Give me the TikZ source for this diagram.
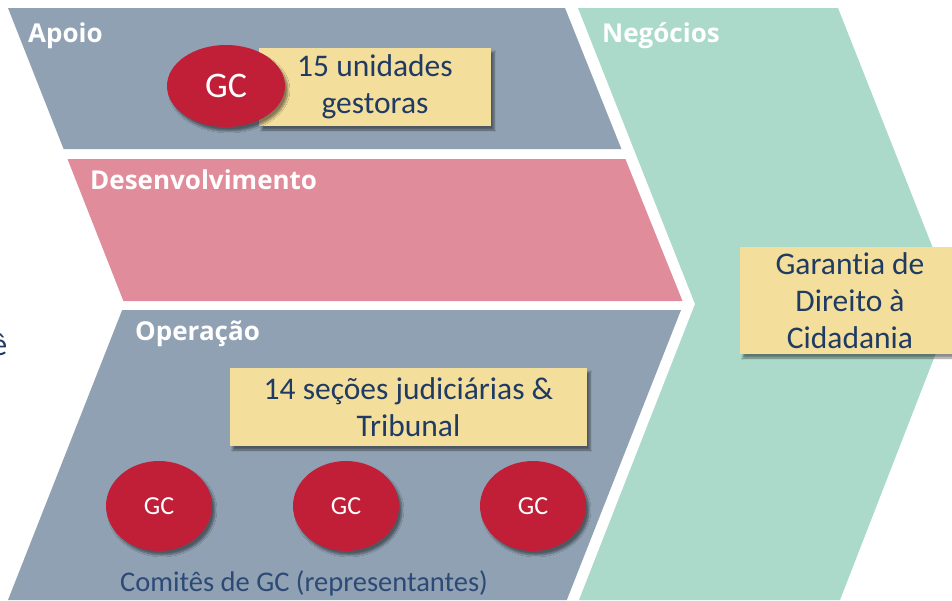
\documentclass[tikz,border=0pt]{standalone}
\usepackage{fontspec}
\setmainfont{Carlito}[Ligatures=NoCommon]
\newfontfamily\rotulofont{Open Sans}
\usetikzlibrary{shapes.geometric,shadows.blur}

\definecolor{cinzaazul}{HTML}{8FA1B3}
\definecolor{rosa}{HTML}{E08C9A}
\definecolor{verdeagua}{HTML}{ABDACB}
\definecolor{amarelo}{HTML}{F3DE9B}
\definecolor{carmim}{HTML}{C11E38}
\definecolor{marinho}{HTML}{1F3B63}
\definecolor{azulcomite}{HTML}{2C4A75}

\begin{document}
\begin{tikzpicture}[x=1pt, y=-1pt,
    rotulo/.style={anchor=base west, inner sep=0pt, text=white, font=\rotulofont\bfseries\fontsize{26}{30}\selectfont},
    caixa/.style={fill=amarelo, text=marinho, align=center, inner sep=0pt, font=\fontsize{31.5}{37}\selectfont,
        blur shadow={shadow xshift=3pt, shadow yshift=-4pt, shadow opacity=45, shadow blur steps=6}},
    gc/.style={ellipse, fill=carmim, text=white, inner sep=0pt,
        blur shadow={shadow xshift=3pt, shadow yshift=-4pt, shadow opacity=45, shadow blur steps=6}}]
        % Fundo e limites
        \fill[white] (0,0) rectangle (952,600);
        \useasboundingbox (0,0) rectangle (952,600);

        % Faixas do chevron da esquerda
        \fill[cinzaazul] (8,8) -- (565,8) -- (621.4,149) -- (63.6,149) -- cycle;
        \fill[rosa] (67.5,159) -- (625.4,159) -- (682.5,301) -- (123.4,301) -- cycle;
        \fill[cinzaazul] (122.2,310) -- (681,310) -- (566.8,600) -- (8,600) -- cycle;

        % Chevron de negocios
        \fill[verdeagua] (578,8) -- (838,8) -- (955,304) -- (840,600) -- (579,600) -- (695,304) -- cycle;

        % Rotulos das faixas
        \node[rotulo] (apoio) at (28,42) {Apoio};
        \node[rotulo] (desenv) at (90,189) {Desenvolvimento};
        \node[rotulo] (operacao) at (135,340) {Operação};
        \node[rotulo] (negocios) at (602,42) {Negócios};

        % Apoio
        \node[caixa, minimum width=232pt, minimum height=78pt] (unidades) at (375,87) {15 unidades\\gestoras};
        \node[gc, minimum width=118pt, minimum height=82pt, font=\fontsize{36}{40}\selectfont] (gcapoio) at (226,86) {GC};

        % Operacao
        \node[caixa, minimum width=357pt, minimum height=78pt] (secoes) at (408.5,407) {14 seções judiciárias \&\\Tribunal};
        \foreach \x [count=\i] in {159,346,533}
            \node[gc, minimum width=106pt, minimum height=90pt, font=\fontsize{26}{30}\selectfont] (gc\i) at (\x,506) {GC};
        \node[text=azulcomite, inner sep=0pt, font=\fontsize{28.5}{32}\selectfont] (comites) at (304,583) {Comitês de GC (representantes)};

        % Negocios
        \node[caixa, minimum width=220pt, minimum height=107pt] (garantia) at (850,300.5) {Garantia de\\Direito à\\Cidadania};

        % Letra cortada na margem
        \node[anchor=base east, inner sep=0pt, text=marinho, font=\fontsize{32}{38}\selectfont] (corte) at (7.5,355) {ê};
    \end{tikzpicture}
\end{document}
